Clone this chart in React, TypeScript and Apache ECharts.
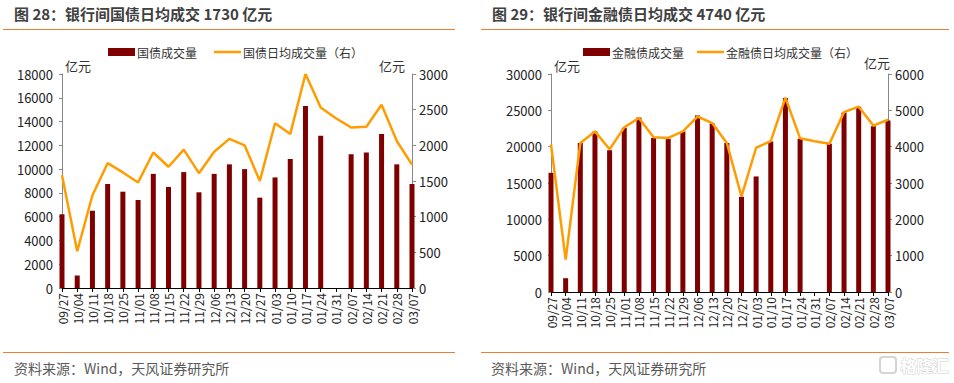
import React, { useEffect, useRef } from "react";
import * as echarts from "echarts";

const categories = ["09/27","10/04","10/11","10/18","10/25","11/01","11/08","11/15","11/22","11/29","12/06","12/13","12/20","12/27","01/03","01/10","01/17","01/24","01/31","02/07","02/14","02/21","02/28","03/07"];

const govVolume = [6200,1050,6500,8750,8100,7400,9600,8500,9750,8050,9600,10400,10000,7600,9300,10850,15300,12800,null,11250,11400,12950,10400,8750];
const govDaily = [1580,515,1300,1750,1620,1480,1900,1700,1940,1610,1910,2090,2000,1500,2310,2160,3000,2530,2380,2250,2260,2570,2060,1730];

const finVolume = [16400,1900,20500,22100,19500,22600,24000,21200,21100,22100,24300,23200,20500,13100,15900,20700,26700,21100,null,20400,24700,25500,22800,23600];
const finDaily = [4060,890,4100,4420,3930,4530,4790,4260,4240,4420,4830,4650,4100,2630,3970,4150,5350,4230,4150,4080,4950,5100,4580,4740];

const titles = ["图 28：银行间国债日均成交 1730 亿元", "图 29：银行间金融债日均成交 4740 亿元"];
const seriesNames = [["国债成交量", "国债日均成交量（右）"], ["金融债成交量", "金融债日均成交量（右）"]];
const sourceText = "资料来源：Wind，天风证券研究所";
const unit = "亿元";

const FONT = '"Microsoft YaHei", "Noto Sans CJK SC", sans-serif';
const BAR = "#7F0000";
const LINE = "#FF9C00";
const ORANGE = "#ED7D31";
const LINE_ICON = "path://M0,0L0.01,0L0,0.01Z M0,2.75H27V5.25H0Z M0,8L0.01,8L0,7.99Z";

export default function App() {
  const ref = useRef<HTMLDivElement>(null);
  useEffect(() => {
    if (!ref.current) return;
    const chart = echarts.init(ref.current, null, { renderer: "svg" });

    const grids = [
      { left: 62, top: 74, width: 350, height: 214 },
      { left: 551, top: 74, width: 337, height: 218 },
    ];
    const leftScales = [{ max: 18000, interval: 2000 }, { max: 30000, interval: 5000 }];
    const rightScales = [{ max: 3000, interval: 500 }, { max: 6000, interval: 1000 }];
    const volumes = [govVolume, finVolume];
    const dailies = [govDaily, finDaily];

    const xAxis: any[] = [];
    const yAxis: any[] = [];
    const series: any[] = [];
    const legend: any[] = [];
    const graphic: any[] = [];
    const legendLeft = [108, 583];
    const legendGap = [17, 13];
    const offsets = [0, 477];
    const plain = (v: number) => String(v);

    for (let k = 0; k < 2; k++) {
      xAxis.push({
        type: "category",
        gridIndex: k,
        data: categories,
        boundaryGap: false,
        axisLine: { lineStyle: { color: "#000", width: 1 } },
        axisTick: { show: true, length: 4, lineStyle: { color: "#000" } },
        axisLabel: { interval: 0, rotate: 90, fontSize: 12, color: "#222", fontFamily: FONT, margin: 5 },
      });
      yAxis.push({
        type: "value",
        gridIndex: k,
        position: "left",
        min: 0,
        max: leftScales[k].max,
        interval: leftScales[k].interval,
        name: unit,
        nameLocation: "end",
        nameGap: 2,
        nameTextStyle: { align: "left", verticalAlign: "bottom", fontSize: 13, color: "#333", fontFamily: FONT, padding: [0, 0, 0, 3] },
        axisLine: { show: true, lineStyle: { color: "#888" } },
        axisTick: { show: true, length: 3, lineStyle: { color: "#888" } },
        axisLabel: { fontSize: 13, color: "#222", fontFamily: FONT, margin: 9, formatter: plain },
        splitLine: { show: false },
      });
      yAxis.push({
        type: "value",
        gridIndex: k,
        position: "right",
        min: 0,
        max: rightScales[k].max,
        interval: rightScales[k].interval,
        name: unit,
        nameLocation: "end",
        nameGap: k === 0 ? 2 : 5,
        nameTextStyle: { align: "right", verticalAlign: "bottom", fontSize: 13, color: "#333", fontFamily: FONT, padding: k === 0 ? [0, 7, 0, 0] : [0, -2, 0, 0] },
        axisLine: { show: true, lineStyle: { color: "#888" } },
        axisTick: { show: true, length: 4, lineStyle: { color: "#888" } },
        axisLabel: { fontSize: 13, color: "#222", fontFamily: FONT, margin: 7, formatter: plain },
        splitLine: { show: false },
      });
      series.push({
        type: "bar",
        name: seriesNames[k][0],
        xAxisIndex: k,
        yAxisIndex: 2 * k,
        data: volumes[k],
        barWidth: 5,
        itemStyle: { color: BAR },
        clip: true,
      });
      series.push({
        type: "line",
        name: seriesNames[k][1],
        xAxisIndex: k,
        yAxisIndex: 2 * k + 1,
        data: dailies[k],
        showSymbol: false,
        symbol: "none",
        connectNulls: true,
        lineStyle: { color: LINE, width: 2.5 },
        itemStyle: { color: LINE },
        z: 5,
      });
      legend.push({
        left: legendLeft[k],
        top: 46,
        itemWidth: 27,
        itemHeight: 8,
        itemGap: legendGap[k],
        padding: 0,
        textStyle: { fontSize: 12, color: "#333", fontFamily: FONT, padding: [0, 0, 0, -3] },
        data: [
          { name: seriesNames[k][0], icon: "rect" },
          { name: seriesNames[k][1], icon: LINE_ICON, itemStyle: { color: LINE } },
        ],
      });
      const o = offsets[k];
      graphic.push({
        type: "text",
        left: 14 + o + (k === 1 ? 1 : 0),
        top: 6,
        style: { text: titles[k], font: `bold 15px ${FONT}`, fill: "#404040" },
      });
      graphic.push({
        type: "line",
        shape: { x1: 3 + o + (k === 1 ? 1 : 0), y1: 29.5, x2: 455 + o + (k === 1 ? 17 : 0), y2: 29.5 },
        style: { stroke: ORANGE, lineWidth: 1 },
      });
      graphic.push({
        type: "line",
        shape: { x1: 3 + o + (k === 1 ? 1 : 0), y1: 352.5, x2: 455 + o + (k === 1 ? 17 : 0), y2: 352.5 },
        style: { stroke: ORANGE, lineWidth: 1 },
      });
      graphic.push({
        type: "text",
        left: 14 + o,
        top: 361,
        style: { text: sourceText, font: `14px ${FONT}`, fill: "#595959" },
      });
    }

    // watermark
    graphic.push({
      type: "rect",
      shape: { x: 880, y: 357, width: 16, height: 16, r: 3 },
      style: { fill: "none", stroke: "#d4d4d4", lineWidth: 2 },
    });
    graphic.push({
      type: "text",
      left: 900,
      top: 356,
      style: { text: "格隆汇", font: `bold 16px ${FONT}`, fill: "#ffffff", stroke: "#cfcfcf", lineWidth: 1 },
    });

    chart.setOption({
      animation: false,
      backgroundColor: "#fff",
      grid: grids,
      xAxis,
      yAxis,
      series,
      legend,
      graphic,
    });
    return () => chart.dispose();
  }, []);

  return (
    <div
      ref={ref}
      style={{ position: "fixed", left: 0, top: 0, width: 954, height: 383, background: "#fff" }}
    />
  );
}
